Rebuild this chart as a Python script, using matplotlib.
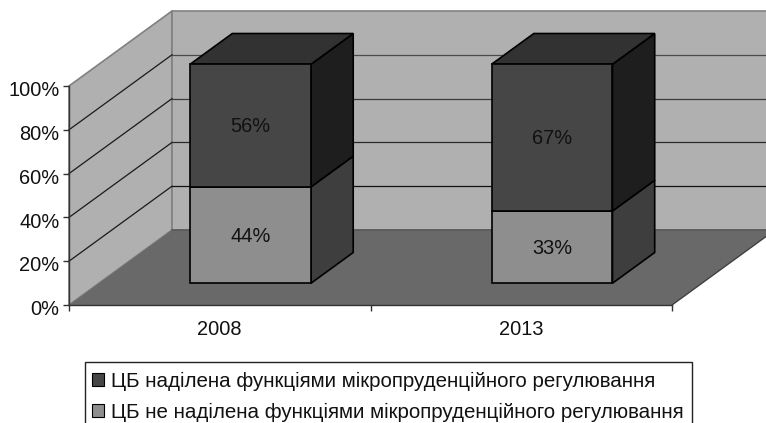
import matplotlib
matplotlib.use('Agg')
import matplotlib.pyplot as plt
from matplotlib.patches import Polygon, Patch, Rectangle
from matplotlib.transforms import ScaledTranslation

plt.rcParams['font.family'] = ['Liberation Sans', 'DejaVu Sans']

# data
years = ['2008', '2013']
lower = [44, 33]
upper = [56, 67]
y_ticks = [0, 20, 40, 60, 80, 100]
lower_name = 'ЦБ не наділена функціями мікропруденційного регулювання'
upper_name = 'ЦБ наділена функціями мікропруденційного регулювання'

W, H = 766, 423
FS = 14.4
TXT = '#111111'
fig = plt.figure(figsize=(W / 100, H / 100), dpi=100)
ax = fig.add_axes([69 / W, 1 - 305 / H, 603 / W, 219 / H])
ax.set_xlim(0, len(years))
ax.set_ylim(0, 100)
ax.patch.set_visible(False)

# depth offset of the fake 3d box, in data units
DX = 103 / 603 * 2
DY = 75 / 219 * 100


def pr(x, y, d):
    return (x + d * DX, y + d * DY)


def face(pts, color, ec='none', lw=0.0, z=1):
    ax.add_patch(Polygon([pr(*p) for p in pts], closed=True, facecolor=color,
                         edgecolor=ec, linewidth=lw, zorder=z, clip_on=False,
                         joinstyle='miter'))


n = len(years)
# walls and floor
face([(0, 0, 0), (0, 100, 0), (0, 100, 1), (0, 0, 1)], '#b0b0b0', '#808080', 1.2)
face([(0, 0, 1), (0, 100, 1), (n, 100, 1), (n, 0, 1)], '#b0b0b0', '#808080', 1.2)
face([(0, 0, 0), (0, 0, 1), (n, 0, 1), (n, 0, 0)], '#696969', 'none', 0)
ax.plot(*zip(pr(0, 0, 1), pr(n, 0, 1)), color='#5a5a5a', lw=1.2, zorder=2, clip_on=False)
ax.plot(*zip(pr(n, 0, 0), pr(n, 0, 1)), color='#404040', lw=1.0, zorder=2, clip_on=False)

# gridlines, greyer towards the top on the back wall
grid_cols = {20: '#111111', 40: '#2a2a2a', 60: '#3c3c3c', 80: '#4a4a4a'}
for t in y_ticks[1:-1]:
    ax.plot(*zip(pr(0, t, 0), pr(0, t, 1)), color='#1a1a1a', lw=0.9, zorder=2, clip_on=False)
    ax.plot(*zip(pr(0, t, 1), pr(n, t, 1)), color=grid_cols[t], lw=0.9, zorder=2, clip_on=False)

# bars
bw = 0.401
d0, d1 = 0.29, 0.70
shift = 0.003
front_low, side_low = '#8e8e8e', '#3e3e3e'
front_up, side_up, top_up = '#464646', '#1e1e1e', '#323232'
for i in range(n):
    x0 = i + 0.5 - bw / 2 + shift
    x1 = x0 + bw
    a = lower[i]
    b = lower[i] + upper[i]
    kw = dict(ec='black', lw=1.2, z=5)
    face([(x1, 0, d0), (x1, a, d0), (x1, a, d1), (x1, 0, d1)], side_low, **kw)
    face([(x1, a, d0), (x1, b, d0), (x1, b, d1), (x1, a, d1)], side_up, **kw)
    face([(x0, b, d0), (x1, b, d0), (x1, b, d1), (x0, b, d1)], top_up, **kw)
    face([(x0, 0, d0), (x1, 0, d0), (x1, a, d0), (x0, a, d0)], front_low, **kw)
    face([(x0, a, d0), (x1, a, d0), (x1, b, d0), (x0, b, d0)], front_up, **kw)
    cx, _ = pr(i + 0.5 + shift, 0, d0)
    ax.text(cx, pr(0, a / 2 - 0.5, d0)[1], f'{lower[i]}%', ha='center', va='center',
            fontsize=FS, color=TXT, zorder=6)
    ax.text(cx, pr(0, a + upper[i] / 2 - 0.5, d0)[1], f'{upper[i]}%', ha='center', va='center',
            fontsize=FS, color=TXT, zorder=6)

# axes
for s in ['top', 'right']:
    ax.spines[s].set_visible(False)
for s in ['left', 'bottom']:
    ax.spines[s].set_color('#333333')
    ax.spines[s].set_linewidth(1.0)
    ax.spines[s].set_zorder(3)
ax.set_yticks(y_ticks)
ax.set_yticklabels([f'{t}%' for t in y_ticks], fontsize=FS, color=TXT)
ax.set_xticks(range(n + 1))
ax.set_xticklabels([])
ax.set_xticks([i + 0.5 for i in range(n)], minor=True)
ax.set_xticklabels(years, minor=True, fontsize=FS, color=TXT)
ax.tick_params(axis='both', which='major', length=4, width=1.0, color='#333333', pad=3)
ax.tick_params(axis='x', which='minor', length=0, pad=11)
for lab in ax.get_yticklabels():
    lab.set_transform(lab.get_transform() + ScaledTranslation(0, -2 / 72, fig.dpi_scale_trans))

# legend box runs off the bottom of the picture
fig.add_artist(Rectangle((85 / W, -10 / H), 607 / W, (H - 362 + 10) / H, transform=fig.transFigure,
                         facecolor='white', edgecolor='#222222', linewidth=1.0, zorder=0))
handles = [Patch(facecolor=front_up, edgecolor='black', linewidth=0.8),
           Patch(facecolor=front_low, edgecolor='black', linewidth=0.8)]
leg = fig.legend(handles, [upper_name, lower_name], loc='upper left',
                 bbox_to_anchor=(85 / W, 1 - 365 / H), borderaxespad=0,
                 fontsize=14.75, frameon=False,
                 handlelength=0.59, handleheight=0.59, handletextpad=0.34,
                 borderpad=0.34, labelspacing=0.56)
for t in leg.get_texts():
    t.set_color(TXT)

fig.savefig('out.png', dpi=100)
